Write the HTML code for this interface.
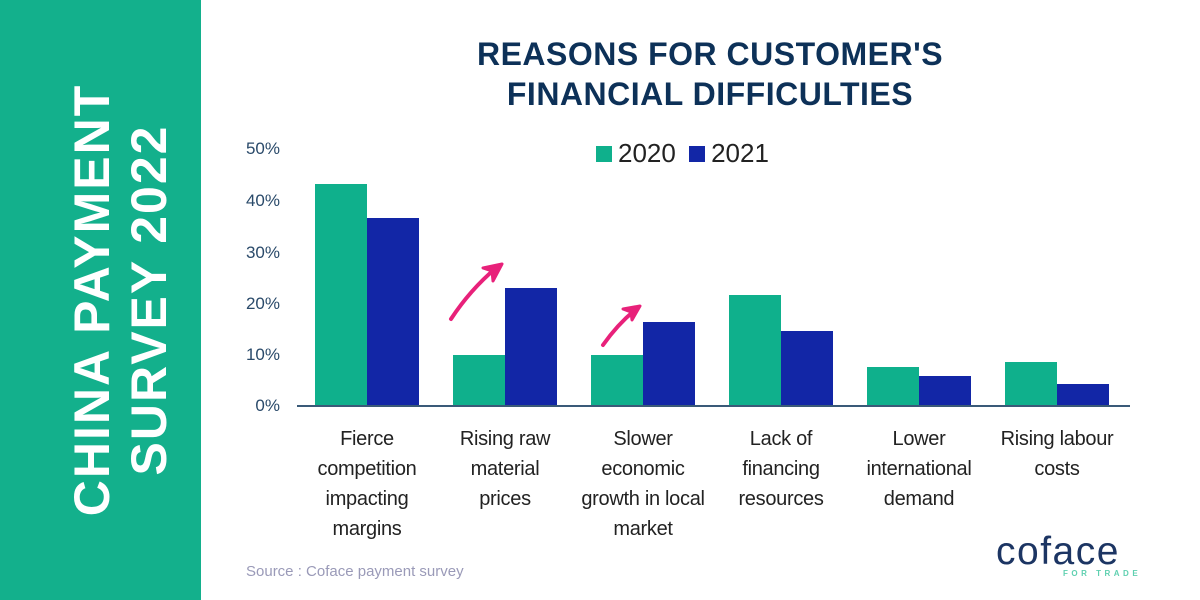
<!DOCTYPE html>
<html><head><style>
body{margin:0;width:1200px;height:600px;overflow:hidden;background:#fff;font-family:"Liberation Sans",sans-serif;position:relative}
.side{position:absolute;left:0;top:0;width:201px;height:600px;background:#13b08c}
.side div{position:absolute;left:121px;top:300px;transform:translate(-50%,-50%) rotate(-90deg);white-space:nowrap;color:#fff;font-weight:bold;font-size:50px;line-height:57px;text-align:center;letter-spacing:2px}
.title{position:absolute;left:400px;width:620px;top:34px;text-align:center;color:#0d3158;font-weight:bold;font-size:32px;line-height:40px;letter-spacing:0.5px}
.yl{position:absolute;left:230px;width:50px;text-align:right;color:#2a4a6a;font-size:17px}
.bar{position:absolute;width:52px}
.g{background:#0fb08c}.b{background:#1226a6}
.cat{position:absolute;top:424px;width:150px;text-align:center;color:#222;font-size:20px;line-height:30px;letter-spacing:-0.3px}
</style></head><body>
<div class="side"><div>CHINA PAYMENT<br>SURVEY 2022</div></div>
<div class="title">REASONS FOR CUSTOMER'S<br>FINANCIAL DIFFICULTIES</div>
<div style="position:absolute;left:596px;top:138px;font-size:26px;color:#222">
<span style="display:inline-block;width:16px;height:16px;background:#0fb08c;margin-right:6px"></span>2020
<span style="display:inline-block;width:16px;height:16px;background:#1226a6;margin:0 6px 0 6px"></span>2021</div>
<div class="yl" style="top:139px">50%</div>
<div class="yl" style="top:191px">40%</div>
<div class="yl" style="top:243px">30%</div>
<div class="yl" style="top:294px">20%</div>
<div class="yl" style="top:345px">10%</div>
<div class="yl" style="top:396px">0%</div>
<div style="position:absolute;left:297px;top:405px;width:833px;height:2px;background:#3a5a78"></div>
<div class="bar g" style="left:315px;top:184px;height:221px"></div><div class="bar b" style="left:367px;top:218px;height:187px"></div>
<div class="bar g" style="left:453px;top:355px;height:50px"></div><div class="bar b" style="left:505px;top:288px;height:117px"></div>
<div class="bar g" style="left:591px;top:355px;height:50px"></div><div class="bar b" style="left:643px;top:322px;height:83px"></div>
<div class="bar g" style="left:729px;top:295px;height:110px"></div><div class="bar b" style="left:781px;top:331px;height:74px"></div>
<div class="bar g" style="left:867px;top:367px;height:38px"></div><div class="bar b" style="left:919px;top:376px;height:29px"></div>
<div class="bar g" style="left:1005px;top:362px;height:43px"></div><div class="bar b" style="left:1057px;top:384px;height:21px"></div>
<svg style="position:absolute;left:0;top:0" width="1200" height="600">
<path d="M451 319 Q470 290 496 268" stroke="#e8217a" stroke-width="4" fill="none" stroke-linecap="round"/>
<path d="M502 264 L483 268 L492 271 L493 281 Z" fill="#e8217a" stroke="#e8217a" stroke-width="3" stroke-linejoin="round"/>
<path d="M603 345 Q617 325 635 310" stroke="#e8217a" stroke-width="4" fill="none" stroke-linecap="round"/>
<path d="M640 306 L623 309 L631 312 L632 320 Z" fill="#e8217a" stroke="#e8217a" stroke-width="3" stroke-linejoin="round"/>
</svg>
<div class="cat" style="left:292px">Fierce<br>competition<br>impacting<br>margins</div>
<div class="cat" style="left:430px">Rising raw<br>material<br>prices</div>
<div class="cat" style="left:568px">Slower<br>economic<br>growth in local<br>market</div>
<div class="cat" style="left:706px">Lack of<br>financing<br>resources</div>
<div class="cat" style="left:844px">Lower<br>international<br>demand</div>
<div class="cat" style="left:982px">Rising labour<br>costs</div>
<div style="position:absolute;left:246px;top:563px;color:#9a9ab8;font-size:15px">Source : Coface payment survey</div>
<div style="position:absolute;left:996px;top:531px;color:#1c3563;font-size:39px;letter-spacing:1.5px;line-height:42px">coface</div>
<div style="position:absolute;left:1063px;top:569px;color:#5fd0b0;font-size:8px;letter-spacing:3.5px;font-weight:bold">FOR TRADE</div>
</body></html>
